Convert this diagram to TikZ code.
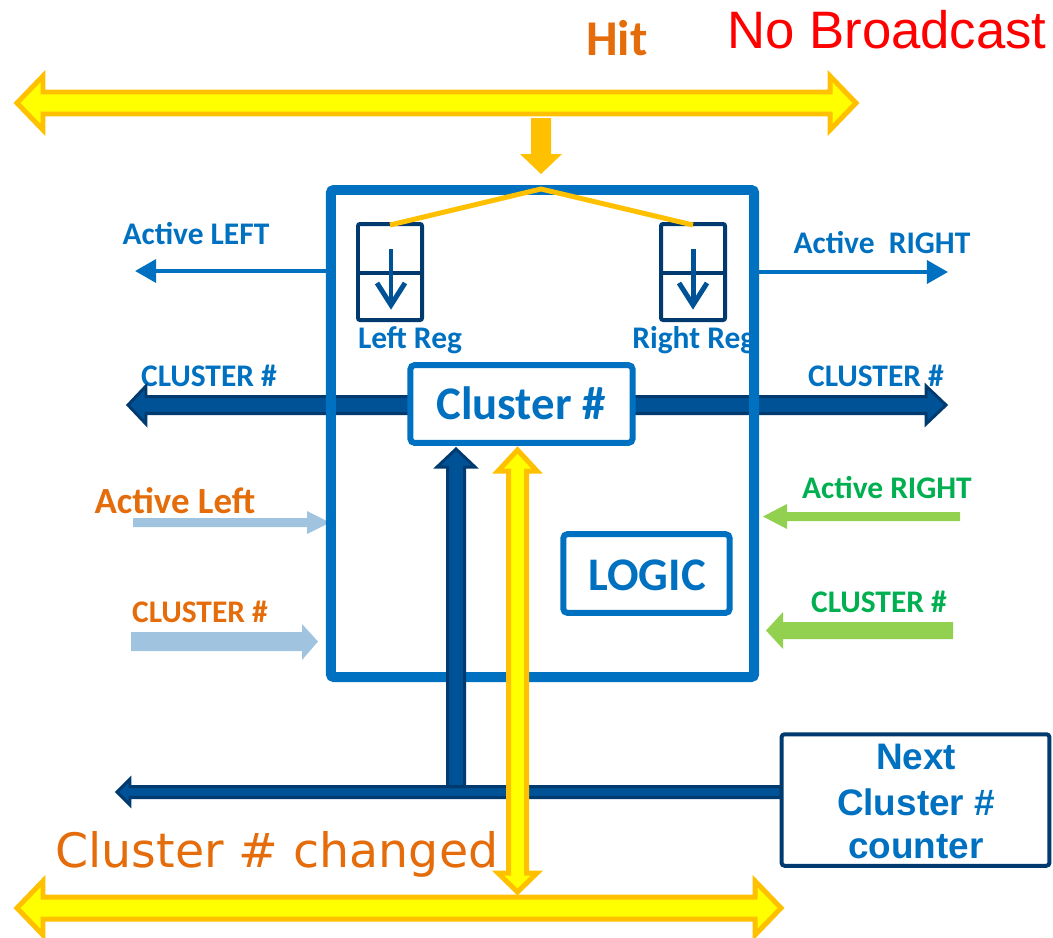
\documentclass[tikz,border=0pt]{standalone}
\usepackage{fontspec}
\newfontfamily\calf{Carlito}
\newfontfamily\arif{Liberation Sans}
\newfontfamily\verf{DejaVu Sans}
\usetikzlibrary{arrows.meta}
\def\qx{*0.5669pt}
\definecolor{cblue}{RGB}{0,112,192}
\definecolor{cnavy}{RGB}{0,58,110}
\definecolor{cnavyin}{RGB}{0,82,150}
\definecolor{cyel}{RGB}{255,255,0}
\definecolor{cgold}{RGB}{255,192,0}
\definecolor{corange}{RGB}{228,108,10}
\definecolor{clblue}{RGB}{160,196,224}
\definecolor{cgreen}{RGB}{0,176,80}
\definecolor{clgreen}{RGB}{146,208,80}
\definecolor{cred}{RGB}{255,0,0}
\tikzset{
  lbl/.style={inner sep=0pt, anchor=base, font=\calf\bfseries\fontsize{17.9}{20}\selectfont},
  lblbig/.style={inner sep=0pt, anchor=base, font=\calf\bfseries\fontsize{26.6}{30}\selectfont},
  nxt/.style={inner sep=0pt, anchor=base, text=cblue, font=\arif\bfseries\fontsize{21}{24}\selectfont},
  yarrow/.style={fill=cyel, draw=cgold, line width=5\qx, line join=miter},
  narrow/.style={fill=cnavyin, draw=cnavy, line width=3\qx, line join=miter},
  bluebox/.style={draw=cblue, fill=white, line width=6\qx, rounded corners=4\qx, inner sep=0pt},
  regbox/.style={draw=cnavy, line width=4\qx, rounded corners=2\qx},
  regarrow/.style={draw=cnavyin, line width=5\qx, line join=miter},
  thinarrow/.style={draw=cblue, line width=4\qx, -{Triangle[length=12pt,width=13pt]}},
}
\begin{document}
\begin{tikzpicture}[x=0.02cm, y=-0.02cm]
\path[use as bounding box] (0,0) rectangle (1053,937);

% ---- labels
\node[inner sep=0pt, anchor=base, text=corange, font=\calf\bfseries\fontsize{28.5}{32}\selectfont] (hit) at (617,55) {Hit};
\node[inner sep=0pt, anchor=base west, text=cred, font=\arif\fontsize{30}{34}\selectfont] (nob) at (727,48) {No Broadcast};
\node[lbl, text=cblue] (tAL) at (196,244) {Active LEFT};
\node[lbl, text=cblue] (tAR) at (882,253) {Active~~RIGHT};
\node[lbl, text=cblue] (tLR) at (410,348) {Left Reg};
\node[lbl, text=cblue, anchor=base west] (tRR) at (632,348) {Right Reg};
\node[lbl, text=cblue] (tCL) at (209,386) {CLUSTER \#};
\node[lbl, text=cblue] (tCR) at (876,386) {CLUSTER \#};
\node[lbl, text=corange, font=\calf\bfseries\fontsize{21}{24}\selectfont] (tALo) at (175,513) {Active Left};
\node[lbl, text=corange] (tCLo) at (200,622) {CLUSTER \#};
\node[lbl, text=cgreen] (tARg) at (887,498) {Active RIGHT};
\node[lbl, text=cgreen] (tCRg) at (879,612) {CLUSTER \#};
\node[inner sep=0pt, anchor=base west, text=corange, font=\verf\fontsize{27}{30}\selectfont] (chg) at (55,867) {Cluster \# changed};

% ---- light input arrows
\fill[clblue] (133,518) -- (307,518) -- (307,511) -- (330,522.5) -- (307,534) -- (307,527) -- (133,527) -- cycle;
\fill[clblue] (131,632) -- (302,632) -- (302,624) -- (318,641.5) -- (302,660) -- (302,651) -- (131,651) -- cycle;
\fill[clgreen] (960,512) -- (787,512) -- (787,504) -- (763,516.5) -- (787,529) -- (787,521) -- (960,521) -- cycle;
\fill[clgreen] (953,622) -- (783,622) -- (783,612) -- (766,630.5) -- (783,649) -- (783,639) -- (953,639) -- cycle;

% ---- thick cluster arrows
\draw[narrow] (128,405) -- (146,386) -- (146,396.5) -- (412,396.5) -- (412,413.5) -- (146,413.5) -- (146,424) -- cycle;
\draw[narrow] (630,396.5) -- (926,396.5) -- (926,386) -- (946,405) -- (926,424) -- (926,413.5) -- (630,413.5) -- cycle;

% ---- main box
\node[draw=cblue, line width=10\qx, rounded corners=3\qx, minimum width=425\qx, minimum height=489\qx, inner sep=0pt] (main) at (542.5,433.5) {};

% ---- active arrows
\coordinate (alT) at (135,271);
\coordinate (arT) at (948,272);
\draw[thinarrow] (main.west |- alT) -- (alT);
\draw[thinarrow] (main.east |- arT) -- (arT);

% ---- registers
\draw[regbox] (358,224) rectangle (422,320);
\draw[cnavy, line width=4\qx] (358,273) -- (422,273);
\draw[regbox] (661,224) rectangle (725,320);
\draw[cnavy, line width=4\qx] (661,273) -- (725,273);
\draw[regarrow] (391,249) -- (391,303);
\draw[regarrow] (377,283) -- (391,305) -- (405,283);
\draw[regarrow] (693,249) -- (693,303);
\draw[regarrow] (679,283) -- (693,305) -- (707,283);
\coordinate (lrTop) at (390,225);
\coordinate (peak) at (541,189);
\coordinate (rrTop) at (693,225);
\draw[cgold, line width=5\qx] (lrTop) -- (peak) -- (rrTop);

% ---- vertical navy arrow and bottom line
\draw[narrow] (456,449) -- (475,467) -- (464.5,467) -- (464.5,792) -- (447.5,792) -- (447.5,467) -- (437,467) -- cycle;
\draw[narrow] (117,792) -- (130,779) -- (130,786.5) -- (782,786.5) -- (782,797.5) -- (130,797.5) -- (130,805) -- cycle;

% ---- vertical yellow double arrow
\draw[yarrow] (517.5,450) -- (537,471) -- (526.5,471) -- (526.5,873) -- (537,873) -- (517.5,892) -- (498,873) -- (508.5,873) -- (508.5,471) -- (498,471) -- cycle;

% ---- boxes
\node[bluebox, minimum width=223\qx, minimum height=78\qx] (clbox) at (521.5,404) {};
\node[lblbig, text=cblue] (clboxt) at (521,419) {Cluster \#};
\node[bluebox, minimum width=167\qx, minimum height=79\qx] (logic) at (646.5,573.5) {};
\node[lblbig, text=cblue] (logict) at (647,590) {LOGIC};
\node[draw=cnavy, fill=white, line width=4\qx, rounded corners=3\qx, minimum width=269\qx, minimum height=132\qx, inner sep=0pt] (nextc) at (915.5,800) {};
\node[nxt] (n1) at (916,769) {Next};
\node[nxt] (n2) at (916,815) {Cluster \#};
\node[nxt] (n3) at (916,858) {counter};

% ---- top and bottom yellow buses
\draw[yarrow] (17,103) -- (43,76) -- (43,92) -- (830,92) -- (830,76) -- (856,103) -- (830,130) -- (830,114) -- (43,114) -- (43,130) -- cycle;
\fill[cgold] (531,118) -- (551,118) -- (551,154) -- (562,154) -- (541,174) -- (520,154) -- (531,154) -- cycle;
\draw[yarrow] (17,908) -- (43,881) -- (43,897) -- (755,897) -- (755,881) -- (781,908) -- (755,935) -- (755,919) -- (43,919) -- (43,935) -- cycle;
\end{tikzpicture}
\end{document}
